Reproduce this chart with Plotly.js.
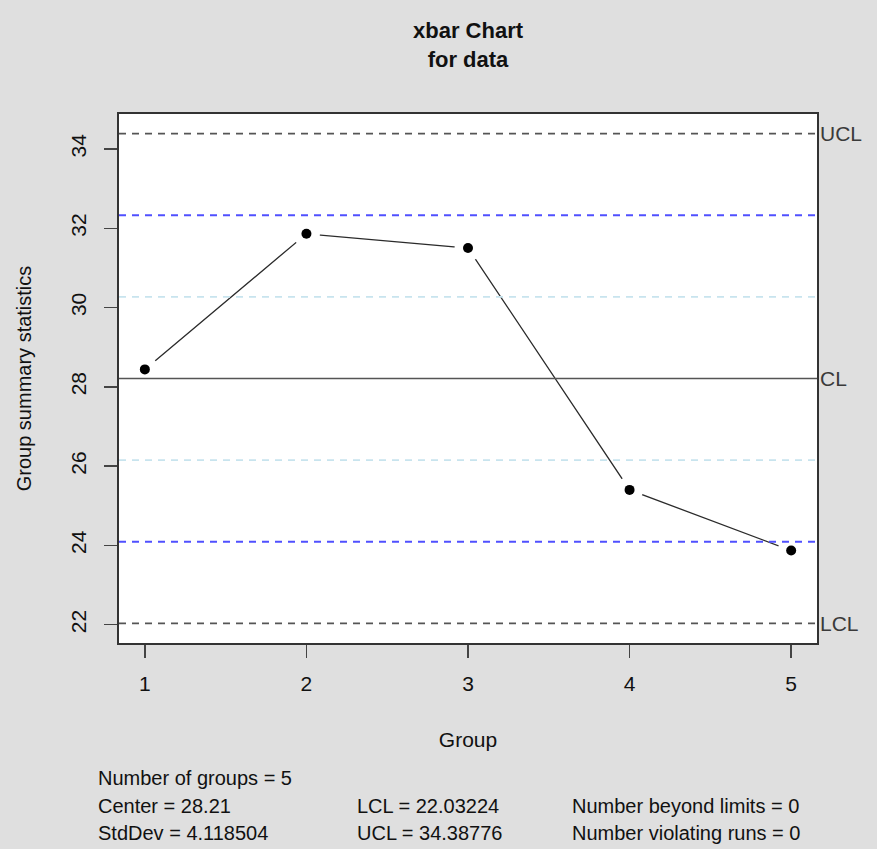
<!DOCTYPE html>
<html>
<head>
<meta charset="utf-8">
<script src="https://cdn.plot.ly/plotly-3.0.1.min.js"></script>
<style>html,body{margin:0;padding:0;background:#dfdfdf;}#chart{width:877px;height:849px;}</style>
</head>
<body>
<div id="chart"></div>
<script>
// ---- data ----
var groups = [1, 2, 3, 4, 5];
var groupMeans = [28.44, 31.86, 31.50, 25.40, 23.87];
var center = 28.21;
var stdDev = 4.118504;
var lcl = 22.03224;
var ucl = 34.38776;
var oneSigmaUpper = 30.2693;
var oneSigmaLower = 26.1507;
var twoSigmaUpper = 32.3285;
var twoSigmaLower = 24.0915;
var xTicks = [1, 2, 3, 4, 5];
var yTicks = [22, 24, 26, 28, 30, 32, 34];
var statLabels = [
  ["Number of groups = 5", "", ""],
  ["Center = 28.21", "LCL = 22.03224", "Number beyond limits = 0"],
  ["StdDev = 4.118504", "UCL = 34.38776", "Number violating runs = 0"]
];

var xr = [0.84, 5.16];
var yr = [21.538, 34.882];
var FONT = "Liberation Sans, Arial, sans-serif";

function hline(y, color, dash, width) {
  return {x: xr, y: [y, y], mode: "lines", hoverinfo: "skip",
    line: {color: color, dash: dash, width: width}, showlegend: false};
}

var traces = [
  {x: groups, y: groupMeans, mode: "lines", line: {color: "#2b2b2b", width: 1.3}, showlegend: false},
  {x: groups, y: groupMeans, mode: "markers", marker: {color: "#ffffff", size: 27}, showlegend: false, hoverinfo: "skip"},
  hline(ucl, "#555555", "7px,6px", 1.8),
  hline(lcl, "#555555", "7px,6px", 1.8),
  hline(twoSigmaUpper, "#5050ff", "7px,6px", 1.8),
  hline(twoSigmaLower, "#5050ff", "7px,6px", 1.8),
  hline(oneSigmaUpper, "#c8e4ee", "7px,6px", 1.8),
  hline(oneSigmaLower, "#c8e4ee", "7px,6px", 1.8),
  hline(center, "#555555", "solid", 1.6),
  {x: groups, y: groupMeans, mode: "markers", marker: {color: "#000000", size: 10}, showlegend: false}
];

var annotations = [];
annotations.push({x: 0.5, xref: "paper", y: (643 - 45) / 529, yref: "paper",
  text: "<b>xbar Chart</b><br><b>for data</b>", showarrow: false, xanchor: "center", yanchor: "middle",
  font: {family: FONT, size: 22, color: "#111111"}});
[["UCL", ucl], ["CL", center], ["LCL", lcl]].forEach(function (p) {
  annotations.push({x: 1, xref: "paper", y: p[1], yref: "y", text: p[0], showarrow: false,
    xanchor: "left", yanchor: "middle", xshift: 1, font: {family: FONT, size: 21, color: "#3a3a3a"}});
});
var colX = [96, 355, 570];
var rowY = [778, 806, 833];
statLabels.forEach(function (row, r) {
  row.forEach(function (t, c) {
    if (!t) return;
    annotations.push({x: (colX[c] - 119) / 698, xref: "paper", y: (643 - rowY[r]) / 529, yref: "paper",
      text: t, showarrow: false, xanchor: "left", yanchor: "middle",
      font: {family: FONT, size: 20, color: "#111111"}});
  });
});

var layout = {
  width: 877, height: 849,
  margin: {l: 119, r: 60, t: 114, b: 206},
  paper_bgcolor: "#dfdfdf",
  plot_bgcolor: "#ffffff",
  font: {family: FONT, size: 21, color: "#111111"},
  showlegend: false,
  xaxis: {range: xr, tickvals: xTicks, ticktext: xTicks.map(String), ticks: "outside", ticklen: 13,
    tickwidth: 1.5, tickcolor: "#444444", showgrid: false, zeroline: false,
    showline: true, linecolor: "#333333", linewidth: 1.8, mirror: true, ticklabelstandoff: 8,
    tickfont: {family: FONT, size: 21, color: "#111111"},
    title: {text: "Group", standoff: 38, font: {family: FONT, size: 21}}},
  yaxis: {range: yr, tickvals: yTicks, ticktext: yTicks.map(String), ticks: "outside", ticklen: 13,
    tickwidth: 1.5, tickcolor: "#444444", tickangle: -90, showgrid: false, zeroline: false,
    showline: true, linecolor: "#333333", linewidth: 1.8, mirror: true, ticklabelstandoff: 10,
    tickfont: {family: FONT, size: 21, color: "#111111"},
    title: {text: "Group summary statistics", standoff: 30, font: {family: FONT, size: 20}}},
  annotations: annotations
};

Plotly.newPlot("chart", traces, layout, {displayModeBar: false, staticPlot: true});
</script>
</body>
</html>
